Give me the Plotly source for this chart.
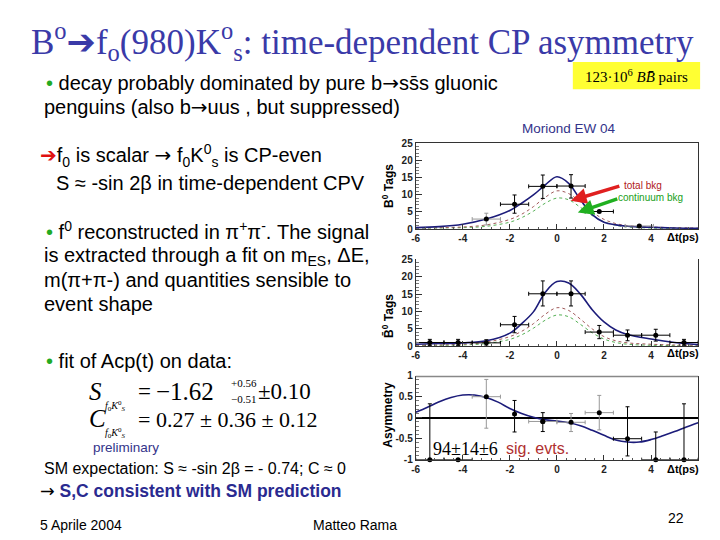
import plotly.graph_objects as go

# ---------------- data ----------------
curve_dt = [-6, -5, -4, -3, -2, -1.5, -1, -0.5, 0, 0.5, 1, 1.5, 2, 2.5, 3, 4, 5, 6]
b0_total = [0.4, 0.7, 1.4, 2.9, 5.4, 7.5, 9.9, 12.8, 15.2, 13.3, 8.5, 4.2, 2.0, 1.2, 0.8, 0.5, 0.3, 0.2]
b0bar_total = [0.6, 0.8, 1.0, 1.6, 3.8, 6.5, 9.9, 15.5, 18.6, 18.2, 15.0, 10.5, 7.0, 4.7, 3.4, 2.1, 1.1, 0.5]
total_bkg = [0.3, 0.4, 0.6, 1.2, 2.8, 4.3, 6.5, 9.2, 11.1, 10.3, 7.8, 5.0, 2.8, 1.6, 1.0, 0.6, 0.4, 0.3]
cont_bkg = [0.2, 0.3, 0.4, 0.8, 2.0, 3.3, 5.2, 7.5, 9.0, 8.5, 6.3, 3.9, 2.1, 1.1, 0.6, 0.3, 0.2, 0.15]

asym_dt = [-6, -5.5, -5, -4.5, -4, -3.5, -3, -2.5, -2, -1.5, -1, -0.5, 0, 0.5, 1, 1.5, 2, 2.5, 3, 3.5, 4, 4.5, 5, 5.5, 6]
asym_fit = [0.13, 0.25, 0.38, 0.48, 0.54, 0.54, 0.48, 0.37, 0.22, 0.10, 0.01, -0.05, -0.08, -0.12, -0.19, -0.30,
            -0.42, -0.53, -0.58, -0.58, -0.52, -0.43, -0.33, -0.22, -0.12]

# B0 tags data points (dark / light)
b0_x = [-1.8, -0.6, 0.6, 1.8]
b0_y = [7.2, 12.4, 12.5, 5.1]
b0_eup = [2.7, 3.3, 3.3, 0.0]
b0_edn = [2.6, 3.5, 3.5, 0.0]
b0_xerr = [0.6, 0.6, 0.6, 0.6]
b0l_x = [-3.0, 3.5]
b0l_y = [2.9, 0.9]
b0l_eup = [1.7, 0.4]
b0l_edn = [1.7, 0.4]
b0l_xerr = [0.6, 0.6]

# B0bar tags data points
b0b_x = [-5.4, -4.2, -3.0, -1.8, -0.6, 0.6, 1.8, 3.0, 4.2, 5.4]
b0b_y = [1.1, 1.1, 1.0, 6.2, 15.1, 15.1, 4.1, 3.2, 3.2, 1.1]
b0b_eup = [0.9, 0.9, 0.9, 2.4, 3.7, 3.7, 1.9, 1.5, 1.7, 0.9]
b0b_edn = [0.9, 0.9, 0.9, 2.3, 3.5, 3.5, 1.9, 1.6, 1.7, 0.8]
b0b_xerr = [0.6, 0.6, 0.6, 0.6, 0.6, 0.6, 0.6, 0.6, 0.6, 0.6]

# Asymmetry data points
as_x = [-5.4, -4.2, -1.8, -0.6, 3.0, 4.2, 5.4]
as_y = [-1.0, -1.0, 0.09, -0.09, -0.5, -1.0, -1.0]
as_eup = [1.33, 0.0, 0.32, 0.21, 0.76, 0.66, 1.33]
as_edn = [0.0, 0.0, 0.43, 0.24, 0.41, 0.0, 0.0]
as_xerr = [0.6, 0.6, 0.0, 0.0, 0.6, 0.6, 0.6]
asl_x = [-3.0, -0.6, 0.6, 1.8]
asl_y = [0.5, -0.09, -0.11, 0.12]
asl_eup = [0.41, 0.0, 0.21, 0.41]
asl_edn = [0.75, 0.0, 0.22, 0.41]
asl_xerr = [0.6, 0.6, 0.6, 0.6]

# page is offset by the default 8px body margin -> figure is 712x532
OFF = 8
W, H = 720 - OFF, 540 - OFF
TDX = -3  # small horizontal correction for text boxes


def px(x, y):
    return (x - OFF) / W, 1 - (y - OFF) / H


fig = go.Figure()

NAVY = "#1c1c7a"
BKG = "#a05a5a"
CONT = "#55b055"


def pts(x, y, eup, edn, xerr, color, xa, ya):
    fig.add_trace(go.Scatter(
        x=x, y=y, mode="markers", xaxis=xa, yaxis=ya, cliponaxis=False,
        marker=dict(color="black", size=5),
        error_y=dict(type="data", symmetric=False, array=eup, arrayminus=edn,
                     color=color, thickness=1, width=2),
        error_x=dict(type="data", array=xerr, color=color, thickness=1, width=2),
        showlegend=False, hoverinfo="skip"))


def curves(total, xa, ya):
    fig.add_trace(go.Scatter(x=curve_dt, y=cont_bkg, mode="lines", xaxis=xa, yaxis=ya,
                             line=dict(color=CONT, width=1, dash="dot", shape="spline"),
                             showlegend=False, hoverinfo="skip"))
    fig.add_trace(go.Scatter(x=curve_dt, y=total_bkg, mode="lines", xaxis=xa, yaxis=ya,
                             line=dict(color=BKG, width=1, dash="dot", shape="spline"),
                             showlegend=False, hoverinfo="skip"))
    fig.add_trace(go.Scatter(x=curve_dt, y=total, mode="lines", xaxis=xa, yaxis=ya,
                             line=dict(color=NAVY, width=1.6, shape="spline"),
                             showlegend=False, hoverinfo="skip"))


curves(b0_total, "x", "y")
pts(b0l_x, b0l_y, b0l_eup, b0l_edn, b0l_xerr, "#999999", "x", "y")
pts(b0_x, b0_y, b0_eup, b0_edn, b0_xerr, "black", "x", "y")

curves(b0bar_total, "x2", "y2")
pts(b0b_x, b0b_y, b0b_eup, b0b_edn, b0b_xerr, "black", "x2", "y2")

fig.add_trace(go.Scatter(x=asym_dt, y=asym_fit, mode="lines", xaxis="x3", yaxis="y3",
                         line=dict(color=NAVY, width=1.6, shape="spline"),
                         showlegend=False, hoverinfo="skip"))
pts(asl_x, asl_y, asl_eup, asl_edn, asl_xerr, "#999999", "x3", "y3")
pts(as_x, as_y, as_eup, as_edn, as_xerr, "black", "x3", "y3")

xd = [px(414, 0)[0], px(698, 0)[0]]
tickfont = dict(family="Liberation Sans", size=10, color="#222222", weight="bold")


def ydom(top, bottom):
    return [px(0, bottom)[1], px(0, top)[1]]


def xax(anchor, mirror):
    return dict(domain=xd, range=[-6, 6], anchor=anchor, tickvals=[-6, -4, -2, 0, 2, 4],
                ticktext=["-6", "-4", "-2", "0", "2", "4"], ticks="inside", ticklen=5,
                tickcolor="#333", minor=dict(dtick=0.4, ticks="inside", ticklen=2, tickcolor="#555"),
                showline=True, linecolor="#333", linewidth=1, mirror=mirror,
                showgrid=False, zeroline=False, tickfont=tickfont)


def yax(anchor, dom, rng, dtick, mdt, zl=False):
    return dict(domain=dom, range=rng, anchor=anchor, dtick=dtick, ticks="inside", ticklen=6,
                tickcolor="#333", minor=dict(dtick=mdt, ticks="inside", ticklen=3, tickcolor="#777"),
                showline=True, linecolor="#333", linewidth=1, mirror=True,
                showgrid=False, zeroline=zl, zerolinecolor="black", zerolinewidth=1.5,
                tickfont=tickfont)


fig.update_layout(
    width=W, height=H, margin=dict(l=0, r=0, t=0, b=0),
    paper_bgcolor="white", plot_bgcolor="white",
    xaxis=xax("y", True),
    yaxis=yax("x", ydom(140, 228), [0, 25], 5, 1),
    xaxis2=xax("y2", False),
    yaxis2=yax("x2", ydom(259, 348), [0, 25], 5, 1),
    xaxis3=xax("y3", False),
    yaxis3=yax("x3", ydom(378, 464), [-1, 1], 0.5, 0.1, zl=True),
)
fig.update_layout(yaxis3=dict(tickvals=[-1, -0.5, 0, 0.5, 1], ticktext=["-1", "-0.5", "0", "0.5", "1"]))

# thick gray top line of asymmetry plot
fig.add_shape(type="line", xref="paper", yref="y3", x0=xd[0], x1=xd[1], y0=1, y1=1,
              line=dict(color="#888888", width=3))


def T(x, y, text, size, color="black", family="Liberation Sans", anchor="left", angle=0, **kw):
    X, Y = px(x + TDX, y)
    fig.add_annotation(x=X, y=Y, xref="paper", yref="paper", text=text, showarrow=False,
                       xanchor=anchor, yanchor="middle", textangle=angle, borderpad=0,
                       font=dict(size=size, color=color, family=family), **kw)


TITLE = "#3a3aa8"
GREEN = "#22aa22"
ARR = "<span style='font-family:DejaVu Sans'>→</span>"
# title
T(29, 36, "B<sup>o</sup><span style='font-family:DejaVu Sans'>➔</span>f<sub>o</sub>(980)K<sup>o</sup><sub>s</sub>: time-dependent CP asymmetry",
  35, TITLE, "Liberation Serif")

# yellow box
x0, y0 = px(572, 85)
x1, y1 = px(700, 57)
fig.add_shape(type="rect", xref="paper", yref="paper", x0=x0, x1=x1, y0=y0, y1=y1,
              fillcolor="#ffff33", line=dict(width=0), layer="below")
T(639, 71, "123·10<sup>6</sup> <i>BB̄</i> pairs", 15, "black", "Liberation Serif", anchor="center")

F = 20
T(44, 79, f"<span style='color:{GREEN}'>•</span> decay probably dominated by pure b{ARR}ss̄s gluonic", F)
T(42, 103, f"penguins (also b{ARR}uus , but suppressed)", F)
T(571, 125, "Moriond EW 04", 13.5, "#33338a", anchor="center")

T(38, 153, f"<span style='color:#e01010;font-family:DejaVu Sans'>➔</span>f<sub>0</sub> is scalar {ARR} f<sub>0</sub>K<sup>0</sup><sub>s</sub> is CP-even", F)
T(54, 181, "S ≈ -sin 2β in time-dependent CPV", F)

T(44, 230, f"<span style='color:{GREEN}'>•</span> f<sup>0</sup> reconstructed in π<sup>+</sup>π<sup>-</sup>. The signal", F)
T(42, 256, "is extracted through a fit on m<sub>ES</sub>, ΔE,", F)
T(42, 280, "m(π+π-) and quantities sensible to", F)
T(42, 305, "event shape", F)
T(44, 363, f"<span style='color:{GREEN}'>•</span> fit of Acp(t) on data:", F)

SER = "Liberation Serif"
T(87, 394, "<i>S</i>", 25, "black", SER)
T(104, 409, "<i>f</i><sub>0</sub><i>K</i><sup>0</sup><sub><i>S</i></sub>", 10, "black", SER)
T(137, 394, "=", 23, "black", SER)
T(155, 394, "−1.62", 25, "black", SER)
T(230, 386, "+0.56", 11, "black", SER)
T(230, 402, "−0.51", 11, "black", SER)
T(257, 394, "±0.10", 23, "black", SER)
T(87, 422, "<i>C</i>", 25, "black", SER)
T(104, 437, "<i>f</i><sub>0</sub><i>K</i><sup>0</sup><sub><i>S</i></sub>", 10, "black", SER)
T(137, 423, "= 0.27 ± 0.36 ± 0.12", 22, "black", SER)
T(91, 452, "preliminary", 13.5, "#34348a")

T(42, 473, "SM expectation: S ≈ -sin 2β = - 0.74; C ≈ 0", 16)
T(38, 496, f"{ARR} <b><span style='color:#2a2a90'>S,C consistent with SM prediction</span></b>", 17.5)
T(38, 531, "5 Aprile 2004", 14)
T(313, 531, "Matteo Rama", 14)
T(670, 524, "22", 14)

# axis titles
T(389, 184, "<b>B<sup>0</sup> Tags</b>", 12, "black", anchor="center", angle=-90)
T(389, 317, "<b>B̄<sup>0</sup> Tags</b>", 12, "black", anchor="center", angle=-90)
T(389, 418, "<b>Asymmetry</b>", 12, "black", anchor="center", angle=-90)
for yy in (236, 355, 474):
    T(703, yy, "<b>Δt(ps)</b>", 11, "black", anchor="right")

T(433, 453, "94±14±6", 18, "black", SER)
T(507, 453, "sig. evts.", 16, "#b03030")

# arrows
T(625, 183, "total bkg", 10, "#b02020")
T(619, 196, "continuum bkg", 10, "#20a020")
hx, hy = px(570, 199)
fig.add_annotation(x=hx, y=hy, xref="paper", yref="paper", ax=50, ay=-15,
                   text="", showarrow=True, arrowhead=2, arrowsize=0.9, arrowwidth=3.5, arrowcolor="#e02020")
hx, hy = px(577, 211)
fig.add_annotation(x=hx, y=hy, xref="paper", yref="paper", ax=41, ay=-14,
                   text="", showarrow=True, arrowhead=2, arrowsize=0.9, arrowwidth=3.5, arrowcolor="#20b020")

fig.write_html("out.html")
